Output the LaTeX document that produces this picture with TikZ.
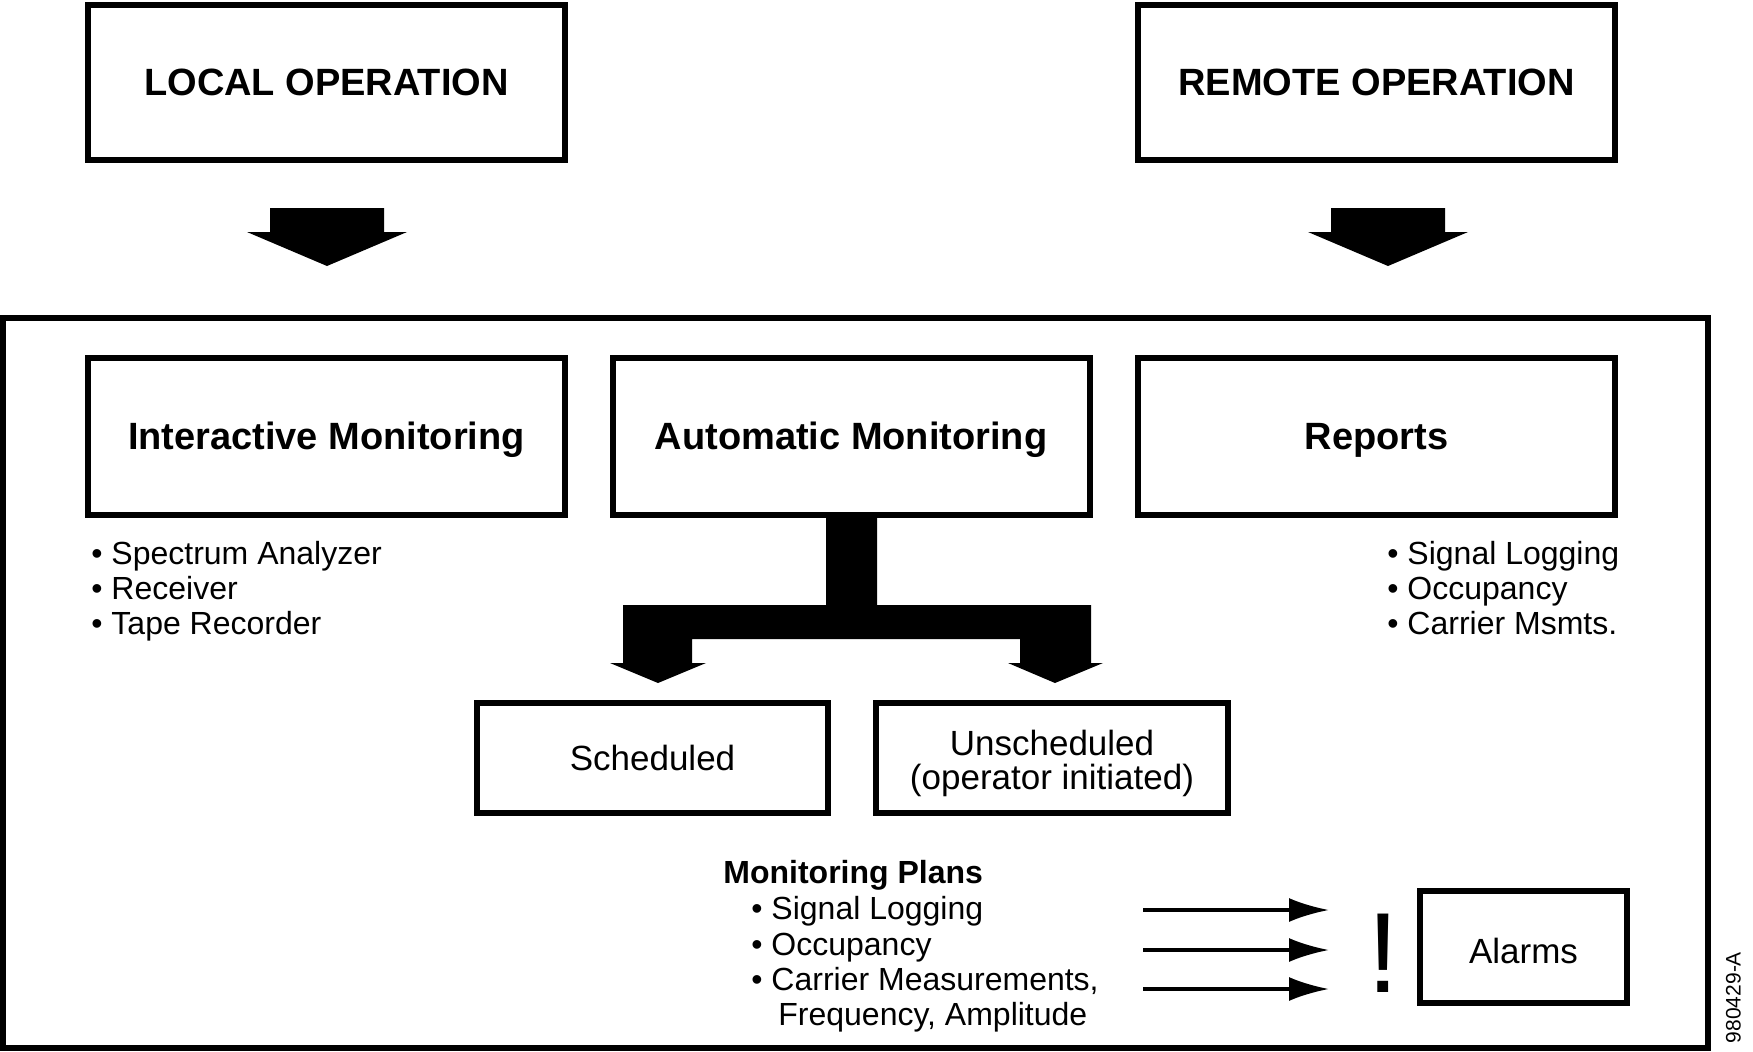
\documentclass[tikz,border=0pt]{standalone}
\usepackage{fontspec}
\setmainfont{Liberation Sans}
\usepackage{tikz}
\usetikzlibrary{arrows.meta}

\begin{document}
\begin{tikzpicture}[x=0.5pt, y=-0.5pt,
    opbox/.style={draw, line width=3pt, minimum width=238.5pt, minimum height=77.5pt,
      inner sep=0pt, font=\fontsize{19}{22}\selectfont\bfseries},
    modebox/.style={opbox, minimum height=78.5pt, text height=17.2pt, text depth=4pt},
    subbox/.style={draw, line width=3pt, minimum height=55pt, inner sep=0pt,
      align=center, font=\fontsize{17.5}{17.3}\selectfont},
    listitem/.style={anchor=base west, inner sep=0pt, font=\fontsize{16}{17.5}\selectfont},
    planarrow/.style={line width=1.75pt, -{Latex[length=20pt, width=12pt]}}
  ]
  % Khung hình (toạ độ tính theo pixel của ảnh gốc)
  \useasboundingbox (0,0) rectangle (1753,1051);

  % --- HÀNG TRÊN: HAI CHẾ ĐỘ VẬN HÀNH ---
  \node[opbox] (local) at (326.5,82.5) {LOCAL OPERATION};
  \node[opbox] (remote) at (1376.5,82.5) {REMOTE OPERATION};

  % Mũi tên khối đi xuống
  \foreach \cx in {327,1388} {
    \fill (\cx-57,208) -- (\cx+57,208) -- (\cx+57,232) -- (\cx+80,232)
      -- (\cx,266) -- (\cx-80,232) -- (\cx-57,232) -- cycle;
  }

  % --- KHUNG LỚN ---
  \draw[line width=3pt] (3,318) rectangle (1708,1048);

  \node[modebox] (inter) at (326.5,436.5) {Interactive Monitoring};
  \node[modebox] (auto) at (851,436.5) {Automatic Monitoring};
  \node[modebox] (reports) at (1376.5,436.5) {Reports};

  % Danh sách dưới các ô
  \foreach \t [count=\i] in {Spectrum Analyzer, Receiver, Tape Recorder}
    \node[listitem] (inter\i) at (91,529+35*\i) {• \t};
  \foreach \t [count=\i] in {Signal Logging, Occupancy, Carrier Msmts.}
    \node[listitem] (rep\i) at (1387,529+35*\i) {• \t};

  % Mũi tên chữ T tách làm hai nhánh
  \fill (826,515) -- (877,515) -- (877,605)   % thân
    -- (1091,605) -- (1091,663)               % nhánh phải
    -- (1103,663) -- (1055,683) -- (1008,663)
    -- (1020,663) -- (1020,639)
    -- (692,639) -- (692,663)                 % nhánh trái
    -- (706,663) -- (658,683) -- (610,663)
    -- (623,663) -- (623,605)
    -- (826,605) -- cycle;

  \node[subbox, minimum width=175.5pt] (sched) at (652.5,758) {Scheduled};
  \node[subbox, minimum width=176pt] (unsched) at (1052,758)
    {\rule{0pt}{18.2pt}Unscheduled\\(operator initiated)};

  % --- KẾ HOẠCH GIÁM SÁT ---
  \node[listitem, font=\fontsize{16}{17.5}\selectfont\bfseries] (plans) at (723,883) {Monitoring Plans};
  \node[listitem] (plan1) at (751,919) {• Signal Logging};
  \node[listitem] (plan2) at (751,955) {• Occupancy};
  \node[listitem] (plan3) at (751,990) {• Carrier Measurements,};
  \node[listitem] (plan4) at (778,1025) {Frequency, Amplitude};

  % Ba mũi tên mảnh
  \foreach \y [count=\i] in {910,950,989} {
    \coordinate (feed\i) at (1143,\y);
    \coordinate (bangin\i) at (1329,\y);
    \draw[planarrow] (feed\i) -- (bangin\i);
  }

  \node[inner sep=0pt, anchor=base, font=\fontsize{57}{57}\selectfont] (bang) at (1383.5,992) {!};
  \node[subbox, minimum width=103.5pt, minimum height=56pt, text height=16.5pt, text depth=0pt]
    (alarms) at (1523.5,947) {Alarms};

  % Mã hình
  \node[rotate=90, inner sep=0pt, font=\fontsize{10.5}{12}\selectfont] (figid) at (1733.5,997.5) {980429-A};
\end{tikzpicture}
\end{document}
